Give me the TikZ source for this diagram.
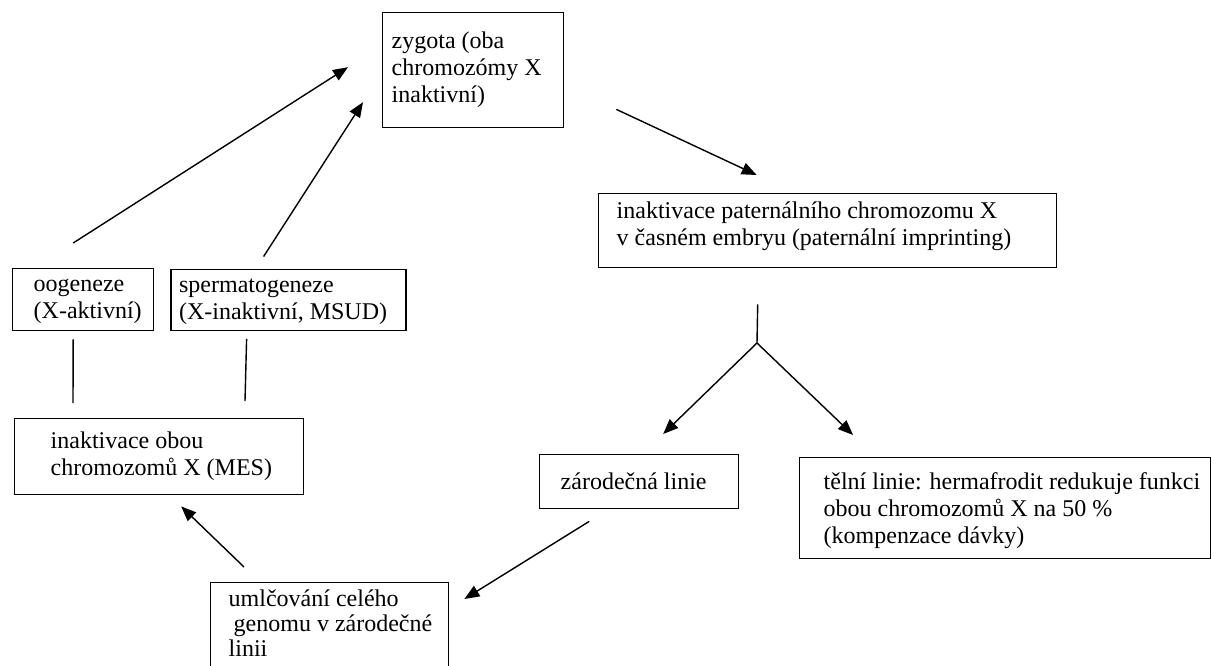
\documentclass[tikz,border=0pt]{standalone}
\usepackage{fontspec}
\setmainfont{Liberation Serif}
\usetikzlibrary{arrows.meta,positioning}

\begin{document}
\begin{tikzpicture}[
      x=1pt, y=-1pt,
      line width=1.4pt,
      box/.style = {
        rectangle, draw=black, inner sep=0pt, anchor=north west,
      },
      boxtext/.style = {
        inner sep=0pt, anchor=west, align=left,
        font=\fontsize{24pt}{27pt}\selectfont,
      },
      connector/.style = {
        black, line width=1.4pt, -{Triangle[length=15pt,width=12pt]},
      },
      link/.style = {
        black, line width=1.4pt,
      },
    ]
    \useasboundingbox (0,0) rectangle (1211,666);
    \node[box, minimum width=181pt, minimum height=115pt] (Zygota) at (382,12) {};
    \node[box, minimum width=458pt, minimum height=74pt] (Paternal) at (598,193) {};
    \node[box, minimum width=141pt, minimum height=62pt] (Oogen) at (12,268) {};
    \node[box, minimum width=235pt, minimum height=61pt, right=16pt of Oogen] (Spermat) {};
    \node[box, minimum width=289pt, minimum height=76pt] (MES) at (14,418) {};
    \node[box, minimum width=199pt, minimum height=54pt] (Germ) at (539,454) {};
    \node[box, minimum width=411pt, minimum height=101pt] (Soma) at (799,457) {};
    \node[box, minimum width=238pt, minimum height=118pt] (Silencing) at (210,582) {};

    \node[boxtext, right=9pt of Zygota.west] (ZygotaText)
      {zygota (oba\\ chromozómy X\\ inaktivní)};
    \node[boxtext, right=18pt of Paternal.west, yshift=4pt] (PaternalText)
      {inaktivace paternálního chromozomu X\\ v časném embryu (paternální imprinting)};
    \node[boxtext, right=21pt of Oogen.west, yshift=-2pt] (OogenText)
      {oogeneze\\ (X-aktivní)};
    \node[boxtext, right=8pt of Spermat.west, yshift=-2pt] (SpermatText)
      {spermatogeneze\\ (X-inaktivní, MSUD)};
    \node[boxtext, right=36pt of MES.west] (MESText)
      {inaktivace obou\\ chromozomů X (MES)};
    \node[boxtext, right=21pt of Germ.west] (GermText)
      {zárodečná linie};
    \node[boxtext, right=24pt of Soma.west, yshift=-2pt] (SomaText)
      {tělní linie: hermafrodit redukuje funkci\\ obou chromozomů X na 50 \%\\ (kompenzace dávky)};
    \node[boxtext, anchor=north west, font=\fontsize{24pt}{25pt}\selectfont] (SilencingText) at (228,589)
      {umlčování celého\\ \hspace*{5pt}genomu v zárodečné\\ linii};

    \draw[connector] ([shift={(-10,-25)}]Oogen.north) -- ([shift={(-34,-3)}]Zygota.west);
    \draw[connector] ([shift={(-25,-12)}]Spermat.north) -- ([shift={(-19,32)}]Zygota.west);
    \draw[connector] ([shift={(52,-19)}]Zygota.south east) -- ([shift={(-71,-18)}]Paternal.north);
    \coordinate (Fork) at (757,343);
    \draw[link] ([shift={(-70,36)}]Paternal.south) -- (Fork);
    \draw[connector] (Fork) -- ([shift={(24,-20)}]Germ.north);
    \draw[connector] (Fork) -- ([shift={(54,-22)}]Soma.north west);
    \draw[connector] ([shift={(-50,12)}]Germ.south) -- ([shift={(15,17)}]Silencing.north east);
    \draw[connector] ([shift={(34,-15)}]Silencing.north west) -- ([shift={(22,11)}]MES.south);
    \draw[link] ([shift={(-10,8)}]Oogen.south) -- ([shift={(59,-15)}]MES.north west);
    \draw[link] ([shift={(-42,8)}]Spermat.south) -- ([shift={(231,-17)}]MES.north west);
  \end{tikzpicture}
\end{document}
